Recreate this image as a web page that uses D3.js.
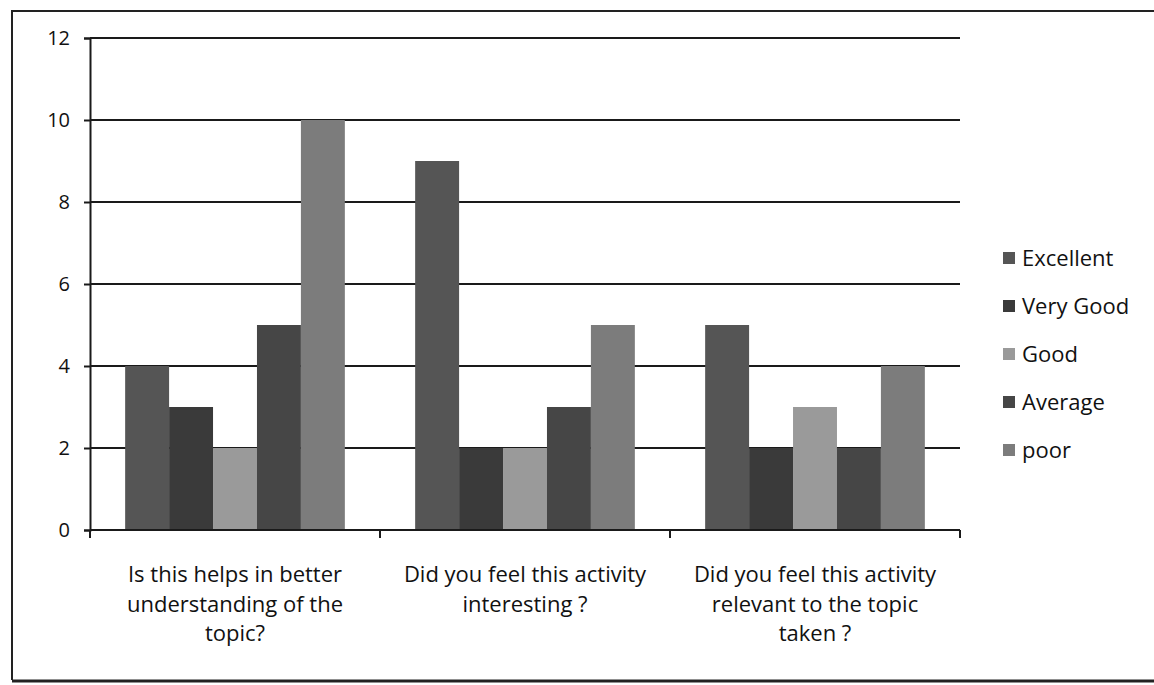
<!DOCTYPE html>
<html><head><meta charset="utf-8">
<script src="https://cdn.jsdelivr.net/npm/d3@7/dist/d3.min.js"></script>
<style>body{margin:0;background:#fff}svg{display:block}</style>
</head><body>
<svg id="c" width="1154" height="685"></svg>
<script>
const categories = [
  ["Is this helps in better", "understanding of the", "topic?"],
  ["Did you feel this activity", "interesting ?"],
  ["Did you feel this activity", "relevant to the topic", "taken ?"]
];
const seriesNames = ["Excellent", "Very Good", "Good", "Average", "poor"];
const excellent = [4, 9, 5];
const veryGood = [3, 2, 2];
const good = [2, 2, 3];
const average = [5, 3, 2];
const poor = [10, 5, 4];
const yTicks = [0, 2, 4, 6, 8, 10, 12];
const colors = ["#555555", "#3a3a3a", "#9a9a9a", "#464646", "#7c7c7c"];

const series = [excellent, veryGood, good, average, poor];
const svg = d3.select("#c");
const font = "'Open Sans', Lato, sans-serif";

// frame
svg.append("path").attr("d", "M12,680 L12,11 L1154,11").attr("fill", "none").attr("stroke", "#222").attr("stroke-width", 2);
svg.append("line").attr("x1", 12).attr("x2", 1154).attr("y1", 681).attr("y2", 681).attr("stroke", "#222").attr("stroke-width", 3);

const L = 90, R = 960, T = 38, B = 530;
const x0 = d3.scaleBand().domain(d3.range(categories.length)).range([L, R]).paddingInner(0).paddingOuter(0);
const x1 = d3.scaleBand().domain(d3.range(seriesNames.length)).range([0, x0.bandwidth()]).paddingOuter(0.8).paddingInner(0);
const y = d3.scaleLinear().domain([0, 12]).range([B, T]);

// grid
svg.append("g").selectAll("line").data(yTicks.filter(d => d > 0)).join("line")
  .attr("x1", L).attr("x2", R).attr("y1", d => y(d)).attr("y2", d => y(d))
  .attr("stroke", "#1a1a1a").attr("stroke-width", 2);

// bars
const g = svg.append("g");
categories.forEach((c, i) => {
  series.forEach((s, j) => {
    g.append("rect")
      .attr("x", x0(i) + x1(j)).attr("width", x1.bandwidth())
      .attr("y", y(s[i])).attr("height", B - y(s[i]))
      .attr("fill", colors[j]);
  });
});

// y axis
const ya = svg.append("g").attr("transform", `translate(${L},0)`)
  .call(d3.axisLeft(y).tickValues(yTicks).tickSize(6).tickPadding(14));
ya.select(".domain").attr("stroke", "#1a1a1a").attr("stroke-width", 2);
ya.selectAll(".tick line").attr("stroke", "#1a1a1a").attr("stroke-width", 2);
ya.selectAll(".tick text").attr("font-family", font).attr("font-size", 20).attr("fill", "#111");

// x axis
const xa = svg.append("g").attr("transform", `translate(0,${B})`);
xa.append("line").attr("x1", L).attr("x2", R).attr("y1", 0).attr("y2", 0).attr("stroke", "#1a1a1a").attr("stroke-width", 2);
const tickXs = d3.range(categories.length + 1).map(i => i < categories.length ? x0(i) : R);
xa.selectAll(".tk").data(tickXs).join("line").attr("class", "tk")
  .attr("x1", d => d).attr("x2", d => d).attr("y1", 0).attr("y2", 8)
  .attr("stroke", "#1a1a1a").attr("stroke-width", 2);
categories.forEach((lines, i) => {
  const t = svg.append("text").attr("x", x0(i) + x0.bandwidth() / 2).attr("y", 582)
    .attr("text-anchor", "middle").attr("font-family", font).attr("font-size", 22).attr("fill", "#111");
  lines.forEach((ln, k) => t.append("tspan").attr("x", x0(i) + x0.bandwidth() / 2).attr("dy", k ? 29.5 : 0).text(ln));
});

// legend
const lg = svg.append("g");
seriesNames.forEach((n, j) => {
  const yy = 258 + j * 48;
  lg.append("rect").attr("x", 1003).attr("y", yy - 6).attr("width", 12).attr("height", 12).attr("fill", colors[j]);
  lg.append("text").attr("x", 1022).attr("y", yy).attr("dy", "0.35em")
    .attr("font-family", font).attr("font-size", 22).attr("fill", "#111").text(n);
});
</script>
</body></html>
